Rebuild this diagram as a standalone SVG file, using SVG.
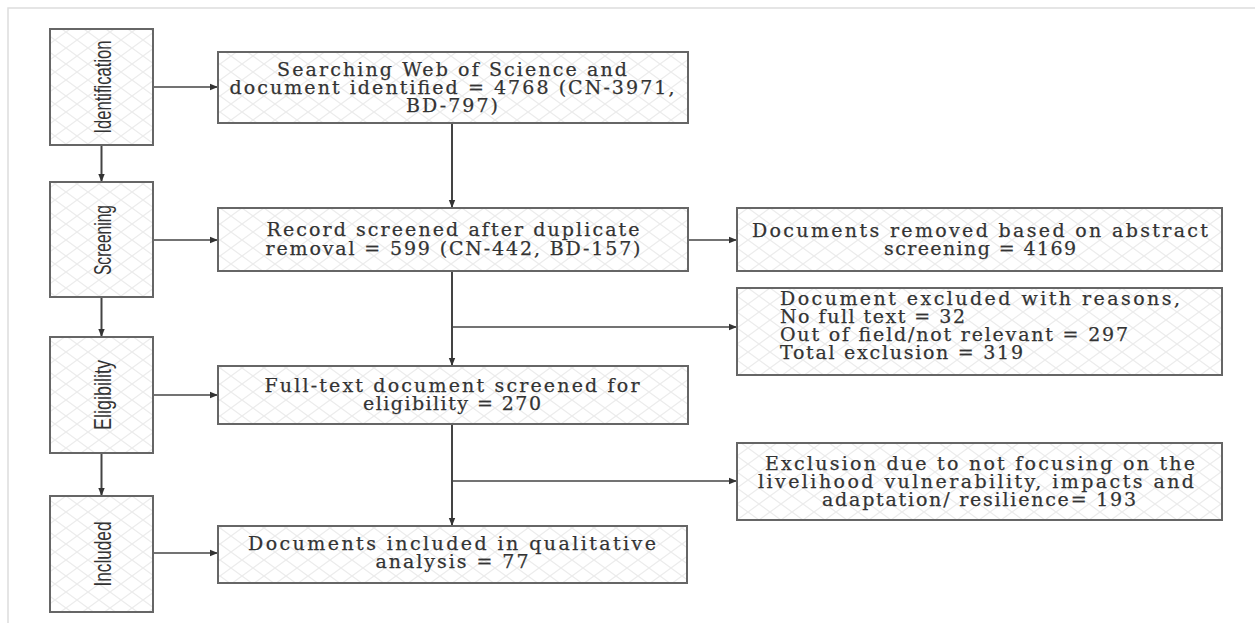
<svg xmlns="http://www.w3.org/2000/svg" width="1255" height="623" viewBox="0 0 1255 623">
<defs>
<pattern id="hatch" patternUnits="userSpaceOnUse" width="22" height="16">
<path d="M0 0 L22 16 M22 0 L0 16" stroke="#ececec" stroke-width="1.3" fill="none"/>
</pattern>
<marker id="arr" viewBox="0 0 10 10" refX="10" refY="5" markerWidth="10" markerHeight="8" markerUnits="userSpaceOnUse" orient="auto">
<path d="M0 1 L10 5 L0 9 Z" fill="#333"/>
</marker>
</defs>
<style>
.box{fill:url(#hatch);stroke:#666;stroke-width:2}
.bg{fill:#fff}
.c{text-anchor:middle}
.st{font-family:"Liberation Sans",Arial,sans-serif;font-size:24px;fill:#333;text-anchor:middle}
.ln{stroke:#444;stroke-width:1.6;fill:none}
.ln2{stroke:#444;stroke-width:2;fill:none}
</style>
<rect x="0" y="0" width="1255" height="623" fill="#fff"/>
<path d="M8 623 L8 8 L1255 8" stroke="#ddd" stroke-width="1.5" fill="none"/>

<g id="connectors">
<path class="ln2" d="M101.5 145 L101.5 182" marker-end="url(#arr)"/>
<path class="ln2" d="M101.5 297 L101.5 337" marker-end="url(#arr)"/>
<path class="ln2" d="M101.5 453 L101.5 496" marker-end="url(#arr)"/>
<path class="ln" d="M153 87 L218 87" marker-end="url(#arr)"/>
<path class="ln" d="M153 240 L218 240" marker-end="url(#arr)"/>
<path class="ln" d="M153 395 L218 395" marker-end="url(#arr)"/>
<path class="ln" d="M153 553 L218 553" marker-end="url(#arr)"/>
<path class="ln2" d="M452 123 L452 208" marker-end="url(#arr)"/>
<path class="ln2" d="M452 271 L452 366" marker-end="url(#arr)"/>
<path class="ln2" d="M452 424 L452 526" marker-end="url(#arr)"/>
<path class="ln" d="M688 240 L737 240" marker-end="url(#arr)"/>
<path class="ln" d="M452 327 L737 327" marker-end="url(#arr)"/>
<path class="ln" d="M452 481 L737 481" marker-end="url(#arr)"/>
</g>

<g id="stage-identification">
<rect class="bg" x="50" y="29" width="103" height="116"/>
<rect class="box" x="50" y="29" width="103" height="116"/>
<text class="st" transform="translate(111 87) rotate(-90)" textLength="93" lengthAdjust="spacingAndGlyphs">Identification</text>
</g>
<g id="stage-screening">
<rect class="bg" x="50" y="182" width="103" height="115"/>
<rect class="box" x="50" y="182" width="103" height="115"/>
<text class="st" transform="translate(111 240) rotate(-90)" textLength="70" lengthAdjust="spacingAndGlyphs">Screening</text>
</g>
<g id="stage-eligibility">
<rect class="bg" x="50" y="337" width="103" height="116"/>
<rect class="box" x="50" y="337" width="103" height="116"/>
<text class="st" transform="translate(111 395) rotate(-90)" textLength="70" lengthAdjust="spacingAndGlyphs">Eligibility</text>
</g>
<g id="stage-included">
<rect class="bg" x="50" y="496" width="103" height="116"/>
<rect class="box" x="50" y="496" width="103" height="116"/>
<text class="st" transform="translate(111 554) rotate(-90)" textLength="65" lengthAdjust="spacingAndGlyphs">Included</text>
</g>

<g font-family="DejaVu Serif, serif" font-size="19" fill="#333" stroke="#333" stroke-width="0.25">
<g id="n-search">
<rect class="bg" x="218" y="52" width="470" height="71"/>
<rect class="box" x="218" y="52" width="470" height="71"/>
<text class="c" x="452" y="76" textLength="350" lengthAdjust="spacing">Searching Web of Science and</text>
<text class="c" x="452" y="94" textLength="445" lengthAdjust="spacing">document identified = 4768 (CN-3971,</text>
<text class="c" x="452" y="112" textLength="92" lengthAdjust="spacing">BD-797)</text>
</g>
<g id="n-screened">
<rect class="bg" x="218" y="208" width="470" height="63"/>
<rect class="box" x="218" y="208" width="470" height="63"/>
<text class="c" x="453" y="236" textLength="373" lengthAdjust="spacing">Record screened after duplicate</text>
<text class="c" x="453" y="255" textLength="375" lengthAdjust="spacing">removal = 599 (CN-442, BD-157)</text>
</g>
<g id="n-fulltext">
<rect class="bg" x="218" y="366" width="470" height="58"/>
<rect class="box" x="218" y="366" width="470" height="58"/>
<text class="c" x="452" y="392" textLength="375" lengthAdjust="spacing">Full-text document screened for</text>
<text class="c" x="452" y="410" textLength="178" lengthAdjust="spacing">eligibility = 270</text>
</g>
<g id="n-included">
<rect class="bg" x="218" y="526" width="469" height="57"/>
<rect class="box" x="218" y="526" width="469" height="57"/>
<text class="c" x="452" y="550" textLength="408" lengthAdjust="spacing">Documents included in qualitative</text>
<text class="c" x="452" y="568" textLength="153" lengthAdjust="spacing">analysis =  77</text>
</g>
<g id="n-removed">
<rect class="bg" x="737" y="208" width="485" height="63"/>
<rect class="box" x="737" y="208" width="485" height="63"/>
<text class="c" x="980" y="237" textLength="456" lengthAdjust="spacing">Documents removed based on abstract</text>
<text class="c" x="980" y="255" textLength="192" lengthAdjust="spacing">screening = 4169</text>
</g>
<g id="n-excluded">
<rect class="bg" x="737" y="288" width="485" height="87"/>
<rect class="box" x="737" y="288" width="485" height="87"/>
<text x="780" y="305" textLength="400" lengthAdjust="spacing">Document excluded with reasons,</text>
<text x="780" y="323" textLength="185" lengthAdjust="spacing">No full text = 32</text>
<text x="780" y="341" textLength="348" lengthAdjust="spacing">Out of field/not relevant = 297</text>
<text x="780" y="359" textLength="243" lengthAdjust="spacing">Total exclusion = 319</text>
</g>
<g id="n-focus">
<rect class="bg" x="737" y="443" width="485" height="77"/>
<rect class="box" x="737" y="443" width="485" height="77"/>
<text class="c" x="980" y="470" textLength="430" lengthAdjust="spacing">Exclusion due to not focusing on the</text>
<text class="c" x="976" y="488" textLength="436" lengthAdjust="spacing">livelihood vulnerability, impacts and</text>
<text class="c" x="979" y="506" textLength="314" lengthAdjust="spacing">adaptation/ resilience= 193</text>
</g>
</g>
</svg>
